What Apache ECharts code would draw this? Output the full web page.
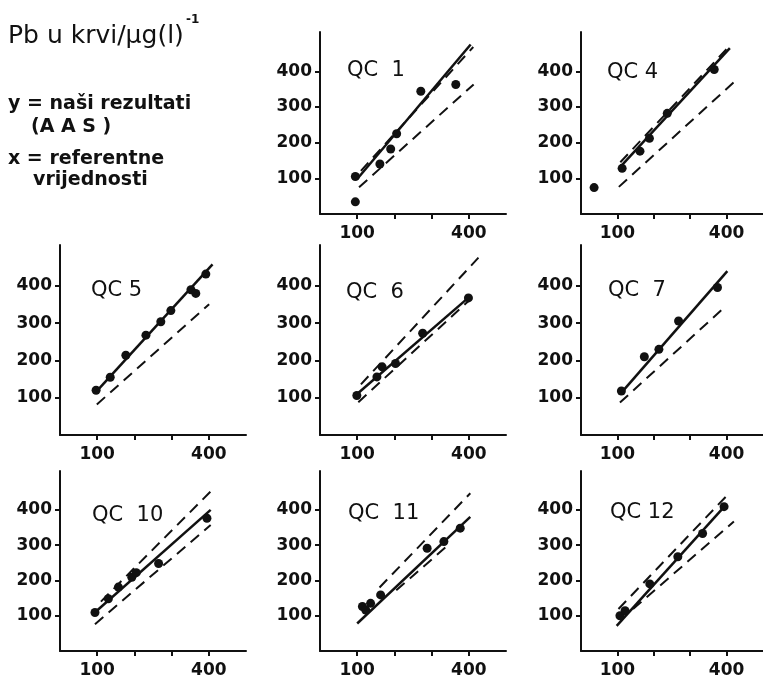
<!DOCTYPE html>
<html>
<head>
<meta charset="utf-8">
<script src="https://cdn.jsdelivr.net/npm/echarts@6/dist/echarts.min.js"></script>
<style>
  html, body { margin: 0; background: #fff; }
  #main { width: 763px; height: 688px; }
</style>
</head>
<body>
<div id="main"></div>
<script>
// panel names, in reading order
const panelNames = ['QC  1', 'QC 4', 'QC 5', 'QC  6', 'QC  7', 'QC  10', 'QC  11', 'QC 12'];

// measured points [reference value, our result]
const qc1Points = [[95, 105], [95, 34], [161, 140], [190, 182], [206, 225], [271, 344], [365, 363]];
const qc4Points = [[36, 74], [113, 128], [162, 176], [188, 212], [237, 282], [366, 405]];
const qc5Points = [[97, 120], [135, 155], [177, 214], [231, 268], [271, 304], [298, 334], [352, 390], [365, 380], [392, 432]];
const qc6Points = [[99, 106], [153, 156], [167, 183], [203, 192], [276, 273], [399, 368]];
const qc7Points = [[111, 118], [174, 210], [214, 230], [268, 306], [375, 396]];
const qc10Points = [[94, 109], [130, 148], [157, 181], [193, 209], [205, 222], [265, 248], [395, 376]];
const qc11Points = [[114, 126], [123, 116], [136, 135], [163, 159], [288, 291], [333, 310], [377, 348]];
const qc12Points = [[107, 100], [121, 114], [189, 190], [266, 267], [334, 333], [393, 409]];

// regression lines (solid), end points
const qc1Fit = [[100, 98], [405, 475]];
const qc4Fit = [[108, 132], [409, 465]];
const qc5Fit = [[97, 116], [410, 458]];
const qc6Fit = [[95, 106], [403, 372]];
const qc7Fit = [[107, 109], [402, 440]];
const qc10Fit = [[89, 105], [405, 400]];
const qc11Fit = [[100, 78], [404, 380]];
const qc12Fit = [[98, 71], [398, 414]];

// dashed limits, end points (null = not drawn)
const qc1Upper = [[110, 121], [412, 468]];
const qc4Upper = [[108, 145], [400, 462]];
const qc5Upper = null;
const qc6Upper = [[110, 136], [426, 476]];
const qc7Upper = null;
const qc10Upper = [[110, 140], [405, 452]];
const qc11Upper = [[160, 180], [404, 447]];
const qc12Upper = [[103, 119], [407, 447]];

const qc1Lower = [[105, 75], [413, 363]];
const qc4Lower = [[104, 76], [423, 372]];
const qc5Lower = [[99, 82], [401, 351]];
const qc6Lower = [[103, 88], [403, 363]];
const qc7Lower = [[107, 87], [398, 346]];
const qc10Lower = [[94, 76], [405, 357]];
const qc11Lower = [[205, 172], [340, 296]];
const qc12Lower = [[143, 119], [420, 367]];

// axis ticks
const xTicks = [100, 200, 300, 400];
const xTickLabels = [100, 400];
const yTicks = [100, 200, 300, 400];

const points = [qc1Points, qc4Points, qc5Points, qc6Points, qc7Points, qc10Points, qc11Points, qc12Points];
const fits = [qc1Fit, qc4Fit, qc5Fit, qc6Fit, qc7Fit, qc10Fit, qc11Fit, qc12Fit];
const uppers = [qc1Upper, qc4Upper, qc5Upper, qc6Upper, qc7Upper, qc10Upper, qc11Upper, qc12Upper];
const lowers = [qc1Lower, qc4Lower, qc5Lower, qc6Lower, qc7Lower, qc10Lower, qc11Lower, qc12Lower];

// layout: grid boxes in px, and where each panel title sits
const cols = [{ left: 60, width: 186 }, { left: 320, width: 186 }, { left: 581, width: 188 }];
const rows = [{ top: 32, height: 182 }, { top: 245, height: 190 }, { top: 471, height: 180 }];
const cells = [[0, 1], [0, 2], [1, 0], [1, 1], [1, 2], [2, 0], [2, 1], [2, 2]];
const titlePos = [[342, 55], [602, 57], [86, 275], [341, 277], [603, 275], [87, 500], [343, 498], [605, 497]];

const ink = '#111';
const labelFont = { fontFamily: 'DejaVu Sans', fontWeight: 'bold', fontSize: 17, color: ink };

const grids = [], xAxes = [], yAxes = [], series = [], titles = [];

cells.forEach(([r, c], i) => {
  grids.push({ left: cols[c].left, width: cols[c].width, top: rows[r].top, height: rows[r].height });
  xAxes.push({
    type: 'value', gridIndex: i, min: 0, max: 500,
    axisLine: { lineStyle: { color: ink, width: 2 } },
    axisTick: { customValues: xTicks, length: 5, lineStyle: { color: ink, width: 2 } },
    axisLabel: Object.assign({ customValues: xTickLabels, margin: 11 }, labelFont),
    splitLine: { show: false }
  });
  yAxes.push({
    type: 'value', gridIndex: i, min: 0, max: 510,
    axisLine: { show: true, lineStyle: { color: ink, width: 2 } },
    axisTick: { show: true, customValues: yTicks, length: 5, lineStyle: { color: ink, width: 2 } },
    axisLabel: Object.assign({ customValues: yTicks, margin: 8 }, labelFont),
    splitLine: { show: false }
  });
  titles.push({
    text: panelNames[i], left: titlePos[i][0], top: titlePos[i][1],
    textStyle: { fontFamily: 'DejaVu Sans', fontWeight: 'normal', fontSize: 21, color: ink }
  });

  series.push({
    type: 'line', xAxisIndex: i, yAxisIndex: i, data: fits[i], symbol: 'none',
    lineStyle: { color: ink, width: 2.5 }, z: 3
  });
  [uppers[i], lowers[i]].forEach(d => {
    if (!d) return;
    series.push({
      type: 'line', xAxisIndex: i, yAxisIndex: i, data: d, symbol: 'none',
      lineStyle: { color: ink, width: 2, type: [11, 7] }, z: 2
    });
  });
  series.push({
    type: 'scatter', xAxisIndex: i, yAxisIndex: i, data: points[i],
    symbol: 'circle', symbolSize: 9, itemStyle: { color: ink, opacity: 1 }, z: 4
  });
});

const headText = (text, x, y, size, weight) => ({
  type: 'text', left: x, top: y,
  style: { text, fontFamily: 'DejaVu Sans', fontSize: size, fontWeight: weight || 'normal', fill: ink }
});

const chart = echarts.init(document.getElementById('main'), null, { renderer: 'canvas' });
chart.setOption({
  backgroundColor: '#fff',
  animation: false,
  title: titles,
  grid: grids,
  xAxis: xAxes,
  yAxis: yAxes,
  series: series,
  graphic: [
    headText('Pb u krvi/μg(l)', 8, 24, 25),
    headText('-1', 186, 14, 12, 'bold'),
    headText('y = naši rezultati', 8, 95, 19, 'bold'),
    headText('(A A S )', 31, 118, 19, 'bold'),
    headText('x = referentne', 8, 150, 19, 'bold'),
    headText('vrijednosti', 33, 171, 19, 'bold')
  ]
});
</script>
</body>
</html>
